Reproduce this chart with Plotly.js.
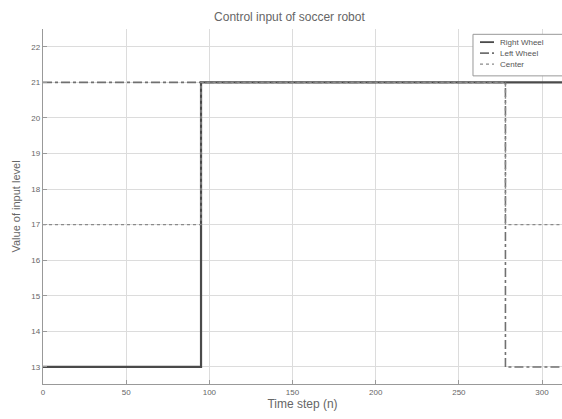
<!DOCTYPE html>
<html>
<head>
<meta charset="utf-8">
<script src="https://cdn.plot.ly/plotly-3.0.1.min.js"></script>
<style>html,body{margin:0;padding:0;background:#fff;}#chart{width:562px;height:419px;}</style>
</head>
<body>
<div id="chart"></div>
<script>
// Data
const rightX = [0, 95, 312];
const rightY = [13, 21, 21];
const leftX = [0, 278, 312];
const leftY = [21, 13, 13];
const centerX = [0, 95, 278, 312];
const centerY = [17, 21, 17, 17];
const xTicks = [0, 50, 100, 150, 200, 250, 300];
const yTicks = [13, 14, 15, 16, 17, 18, 19, 20, 21, 22];
const seriesNames = ["Right Wheel", "Left Wheel", "Center"];

const lineStyles = [
  {shape: "hv", color: "#4a4a4a", width: 2.2, dash: "solid"},
  {shape: "hv", color: "#707070", width: 1.6, dash: "dashdot"},
  {shape: "hv", color: "#8a8a8a", width: 1.4, dash: "dot"}
];
const xs = [rightX, leftX, centerX];
const ys = [rightY, leftY, centerY];

const traces = seriesNames.map((n, i) => ({
  x: xs[i], y: ys[i], name: n, mode: "lines", line: lineStyles[i], showlegend: false
}));

// compact legend box (drawn in paper coordinates)
const legRowsY = [0.963, 0.932, 0.901];
const shapes = [
  {type: "rect", xref: "paper", yref: "paper", x0: 0.8285, x1: 1.06, y0: 0.868, y1: 0.985,
   line: {color: "#999", width: 1}, fillcolor: "#fff", layer: "above"}
];
const annotations = [];
seriesNames.forEach((n, i) => {
  shapes.push({type: "line", xref: "paper", yref: "paper", x0: 0.842, x1: 0.869, y0: legRowsY[i], y1: legRowsY[i],
    line: {color: lineStyles[i].color, width: Math.min(lineStyles[i].width, 1.8), dash: lineStyles[i].dash}, layer: "above"});
  annotations.push({xref: "paper", yref: "paper", x: 0.876, y: legRowsY[i], xanchor: "left", yanchor: "middle",
    text: n, showarrow: false, font: {size: 8, color: "#555"}});
});

const layout = {
  width: 562, height: 419,
  margin: {l: 43, r: 0, t: 29, b: 35},
  paper_bgcolor: "#fff", plot_bgcolor: "#fff",
  font: {family: "Liberation Sans, Arial, sans-serif", color: "#555"},
  title: {text: "Control input of soccer robot", x: 0.515, xanchor: "center", y: 0.97, yanchor: "top", font: {size: 12, color: "#666"}},
  xaxis: {
    range: [0, 312], tickvals: xTicks, ticktext: xTicks.map(String),
    showgrid: true, gridcolor: "#dcdcdc", gridwidth: 1,
    showline: true, linecolor: "#999", linewidth: 1.2,
    ticks: "inside", ticklen: 4, tickcolor: "#999",
    zeroline: false, tickfont: {size: 8, color: "#666"},
    title: {text: "Time step (n)", font: {size: 12, color: "#666"}, standoff: 2}
  },
  yaxis: {
    range: [12.52, 22.5], tickvals: yTicks, ticktext: yTicks.map(String),
    showgrid: true, gridcolor: "#dcdcdc", gridwidth: 1,
    showline: true, linecolor: "#999", linewidth: 1.2,
    ticks: "inside", ticklen: 4, tickcolor: "#999",
    zeroline: false, tickfont: {size: 8, color: "#666"},
    title: {text: "Value of input level", font: {size: 11, color: "#666"}, standoff: 8}
  },
  showlegend: false,
  shapes: shapes,
  annotations: annotations
};

Plotly.newPlot("chart", traces, layout, {displayModeBar: false, staticPlot: true});
</script>
</body>
</html>
